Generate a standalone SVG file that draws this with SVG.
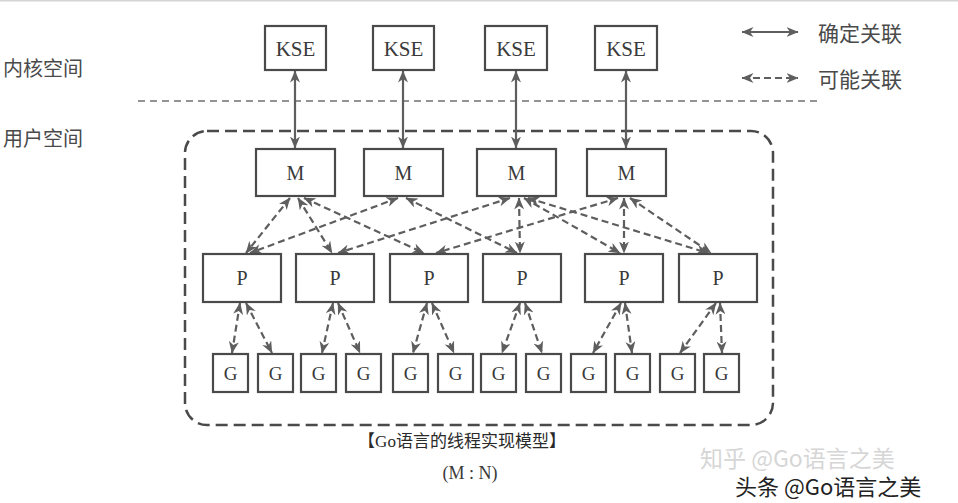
<svg xmlns="http://www.w3.org/2000/svg" width="958" height="503" viewBox="0 0 958 503">
<style>
.box{fill:#fff;stroke:#4a4a4a;stroke-width:2.2}
.lbl{font-family:"Liberation Serif",serif;fill:#3a3a3a;text-anchor:middle;dominant-baseline:central}
.cjk{font-family:"Noto Sans CJK SC","Noto Sans",sans-serif;fill:#4a4a4a;dominant-baseline:central}
.solid{stroke:#5e5e5e;stroke-width:2.2;fill:none;marker-start:url(#ah);marker-end:url(#ah)}
.dash{stroke:#5e5e5e;stroke-width:2.2;fill:none;stroke-dasharray:7 4;marker-start:url(#ah);marker-end:url(#ah)}
</style>
<defs>
<marker id="ah" viewBox="0 0 12 10" refX="11.5" refY="5" markerWidth="12" markerHeight="10" markerUnits="userSpaceOnUse" orient="auto-start-reverse">
<path d="M0,0 L12,5 L0,10 L3.5,5 z" fill="#5e5e5e"/>
</marker>
</defs>
<rect x="0" y="0" width="958" height="503" fill="#fff"/>
<rect x="0" y="0" width="958" height="1.5" fill="#d4d4d4"/>

<g id="labels">
<text class="cjk" x="3" y="67" font-size="20">内核空间</text>
<text class="cjk" x="3" y="137" font-size="20">用户空间</text>
</g>
<line x1="138" y1="101" x2="822" y2="101" stroke="#707070" stroke-width="1.6" stroke-dasharray="7 5"/>
<rect id="user-space" x="185" y="131" width="588" height="294" rx="22" fill="none" stroke="#4a4a4a" stroke-width="2.5" stroke-dasharray="12 6"/>

<g id="legend">
<line class="solid" x1="742" y1="32" x2="798" y2="32"/>
<text class="cjk" x="818" y="32" font-size="21">确定关联</text>
<line class="dash" x1="742" y1="78" x2="798" y2="78" stroke-dasharray="5 4"/>
<text class="cjk" x="818" y="78" font-size="21">可能关联</text>
</g>

<g id="connectors">
<line class="solid" x1="295" y1="71" x2="295" y2="148"/>
<line class="solid" x1="403" y1="71" x2="403" y2="148"/>
<line class="solid" x1="516" y1="71" x2="516" y2="148"/>
<line class="solid" x1="626" y1="71" x2="626" y2="148"/>

<line class="dash" x1="290" y1="198" x2="246" y2="253"/>
<line class="dash" x1="298" y1="198" x2="332" y2="253"/>
<line class="dash" x1="304" y1="198" x2="424" y2="253"/>
<line class="dash" x1="398" y1="198" x2="250" y2="253"/>
<line class="dash" x1="406" y1="198" x2="517" y2="253"/>
<line class="dash" x1="510" y1="198" x2="338" y2="253"/>
<line class="dash" x1="519" y1="198" x2="520" y2="253"/>
<line class="dash" x1="524" y1="198" x2="620" y2="253"/>
<line class="dash" x1="528" y1="198" x2="708" y2="253"/>
<line class="dash" x1="618" y1="198" x2="436" y2="253"/>
<line class="dash" x1="624" y1="198" x2="624" y2="253"/>
<line class="dash" x1="630" y1="198" x2="711" y2="253"/>

<line class="dash" x1="240" y1="303" x2="232" y2="353"/>
<line class="dash" x1="246" y1="303" x2="272" y2="353"/>
<line class="dash" x1="333" y1="303" x2="322" y2="353"/>
<line class="dash" x1="338" y1="303" x2="360" y2="353"/>
<line class="dash" x1="427" y1="303" x2="413" y2="353"/>
<line class="dash" x1="432" y1="303" x2="454" y2="353"/>
<line class="dash" x1="520" y1="303" x2="502" y2="353"/>
<line class="dash" x1="525" y1="303" x2="542" y2="353"/>
<line class="dash" x1="621" y1="303" x2="593" y2="353"/>
<line class="dash" x1="625" y1="303" x2="632" y2="353"/>
<line class="dash" x1="716" y1="303" x2="680" y2="353"/>
<line class="dash" x1="720" y1="303" x2="722" y2="353"/>
</g>

<g id="kse1"><rect class="box" x="265" y="26" width="61" height="44"/><text class="lbl" x="295.5" y="49" font-size="21">KSE</text></g>
<g id="kse2"><rect class="box" x="373" y="26" width="61" height="44"/><text class="lbl" x="403.5" y="49" font-size="21">KSE</text></g>
<g id="kse3"><rect class="box" x="485" y="26" width="62" height="44"/><text class="lbl" x="516" y="49" font-size="21">KSE</text></g>
<g id="kse4"><rect class="box" x="595" y="26" width="62" height="44"/><text class="lbl" x="626" y="49" font-size="21">KSE</text></g>

<g id="m1"><rect class="box" x="256" y="149" width="79" height="47"/><text class="lbl" x="295.5" y="173" font-size="20">M</text></g>
<g id="m2"><rect class="box" x="364" y="149" width="79" height="47"/><text class="lbl" x="403.5" y="173" font-size="20">M</text></g>
<g id="m3"><rect class="box" x="477" y="149" width="79" height="47"/><text class="lbl" x="516.5" y="173" font-size="20">M</text></g>
<g id="m4"><rect class="box" x="587" y="149" width="79" height="47"/><text class="lbl" x="626.5" y="173" font-size="20">M</text></g>

<g id="p1"><rect class="box" x="203" y="254" width="78" height="48"/><text class="lbl" x="242" y="278" font-size="20">P</text></g>
<g id="p2"><rect class="box" x="296" y="254" width="78" height="48"/><text class="lbl" x="335" y="278" font-size="20">P</text></g>
<g id="p3"><rect class="box" x="390" y="254" width="78" height="48"/><text class="lbl" x="429" y="278" font-size="20">P</text></g>
<g id="p4"><rect class="box" x="483" y="254" width="78" height="48"/><text class="lbl" x="522" y="278" font-size="20">P</text></g>
<g id="p5"><rect class="box" x="585" y="254" width="78" height="48"/><text class="lbl" x="624" y="278" font-size="20">P</text></g>
<g id="p6"><rect class="box" x="679" y="254" width="78" height="48"/><text class="lbl" x="718" y="278" font-size="20">P</text></g>

<g id="g1"><rect class="box" x="213" y="354" width="35" height="38"/><text class="lbl" x="230.5" y="373" font-size="19">G</text></g>
<g id="g2"><rect class="box" x="258" y="354" width="35" height="38"/><text class="lbl" x="275.5" y="373" font-size="19">G</text></g>
<g id="g3"><rect class="box" x="301" y="354" width="35" height="38"/><text class="lbl" x="318.5" y="373" font-size="19">G</text></g>
<g id="g4"><rect class="box" x="346" y="354" width="35" height="38"/><text class="lbl" x="363.5" y="373" font-size="19">G</text></g>
<g id="g5"><rect class="box" x="393" y="354" width="35" height="38"/><text class="lbl" x="410.5" y="373" font-size="19">G</text></g>
<g id="g6"><rect class="box" x="438" y="354" width="35" height="38"/><text class="lbl" x="455.5" y="373" font-size="19">G</text></g>
<g id="g7"><rect class="box" x="481" y="354" width="35" height="38"/><text class="lbl" x="498.5" y="373" font-size="19">G</text></g>
<g id="g8"><rect class="box" x="526" y="354" width="35" height="38"/><text class="lbl" x="543.5" y="373" font-size="19">G</text></g>
<g id="g9"><rect class="box" x="571" y="354" width="35" height="38"/><text class="lbl" x="588.5" y="373" font-size="19">G</text></g>
<g id="g10"><rect class="box" x="615" y="354" width="35" height="38"/><text class="lbl" x="632.5" y="373" font-size="19">G</text></g>
<g id="g11"><rect class="box" x="660" y="354" width="35" height="38"/><text class="lbl" x="677.5" y="373" font-size="19">G</text></g>
<g id="g12"><rect class="box" x="704" y="354" width="35" height="38"/><text class="lbl" x="721.5" y="373" font-size="19">G</text></g>

<g id="caption">
<text x="462" y="441" font-size="17" text-anchor="middle" dominant-baseline="central" fill="#2a2a2a" font-family="'Liberation Serif','Noto Sans CJK SC',serif">【Go语言的线程实现模型】</text>
<text x="470" y="473" font-size="18" text-anchor="middle" dominant-baseline="central" fill="#3a3a3a" font-family="'Liberation Serif','Noto Sans CJK SC',serif">(M : N)</text>
</g>
<g id="watermark">
<text x="700" y="457" font-size="23" dominant-baseline="central" fill="#d6d6d6" font-family="'Noto Sans CJK SC','Noto Sans',sans-serif">知乎 @Go语言之美</text>
<text x="735" y="485" font-size="22" dominant-baseline="central" fill="#222" stroke="#fff" stroke-width="2" paint-order="stroke" font-family="'Noto Sans CJK SC','Noto Sans',sans-serif">头条 @Go语言之美</text>
</g>
</svg>
